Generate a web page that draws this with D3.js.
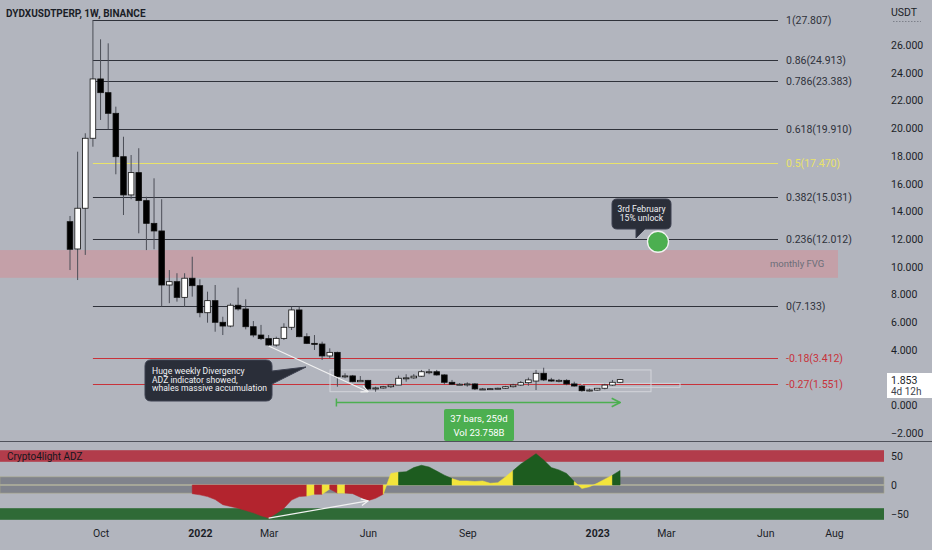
<!DOCTYPE html>
<html><head><meta charset="utf-8">
<script src="https://cdn.jsdelivr.net/npm/d3@7"></script>
<style>
body{margin:0;background:#b2b5be;}
svg{display:block;font-family:Roboto,"Liberation Sans",sans-serif;}
</style>
</head><body>
<svg id="c" width="932" height="550"></svg>
<script>
// ---------- DATA ----------
const firstWeek = new Date(Date.UTC(2021, 8, 6));
const opens  = [13.25,11.28,14.22,19.27,23.55,22.56,21.07,17.94,15.18,16.79,14.77,13.13,12.58,8.68,8.92,7.79,9.17,8.63,6.68,7.55,5.99,5.72,7.22,6.95,5.67,5.07,4.81,4.35,4.83,5.63,6.88,4.95,4.47,4.42,3.56,3.82,2.06,2.12,1.70,1.80,1.18,1.25,1.34,1.46,1.95,1.98,2.10,2.42,2.42,2.19,1.66,1.52,1.52,1.54,1.18,1.18,1.20,1.23,1.34,1.46,1.63,1.75,2.31,1.83,1.75,1.80,1.54,1.39,1.05,1.10,1.23,1.46,1.66];
const highs  = [13.66,18.30,19.63,27.807,26.41,26.12,21.55,19.38,18.06,18.55,15.05,16.38,14.87,9.76,9.53,9.53,10.72,9.09,8.20,8.68,6.39,7.36,8.49,7.65,6.08,5.80,5.07,4.95,5.92,7.12,7.12,5.20,5.07,4.59,4.11,3.87,2.31,2.19,2.11,1.83,1.34,1.40,1.52,2.14,2.24,2.25,2.55,2.62,2.55,2.24,1.83,1.60,1.66,1.60,1.25,1.25,1.27,1.40,1.55,1.75,2.00,2.55,2.71,1.98,1.90,1.88,1.70,1.46,1.20,1.25,1.55,1.83,1.90];
const lows   = [9.76,9.04,10.85,18.66,20.59,19.92,16.67,13.73,14.87,12.41,11.20,11.26,7.133,7.37,7.48,7.12,7.84,6.35,5.96,5.31,5.07,5.63,6.83,5.48,4.91,4.71,4.28,4.23,4.71,5.43,4.91,4.42,3.99,3.27,3.39,1.34,1.95,1.66,1.70,1.10,0.98,1.20,1.25,1.46,1.70,1.90,2.05,2.24,2.14,1.52,1.46,1.45,1.34,1.10,1.12,1.12,1.15,1.18,1.28,1.40,1.41,1.10,1.75,1.70,1.65,1.45,1.35,0.98,1.00,1.05,1.15,1.40,1.60];
const closes = [11.26,14.22,19.27,23.55,22.56,21.07,17.94,15.18,16.79,14.77,13.13,12.58,8.68,8.92,7.79,9.17,8.63,6.68,7.55,5.99,5.72,7.22,6.95,5.67,5.07,4.81,4.35,4.83,5.63,6.88,4.95,4.47,4.42,3.56,3.82,2.06,2.12,1.70,1.80,1.18,1.25,1.34,1.46,1.95,1.98,2.10,2.42,2.42,2.19,1.66,1.52,1.52,1.54,1.18,1.18,1.20,1.23,1.34,1.46,1.63,1.83,2.31,1.83,1.75,1.80,1.54,1.39,1.05,1.10,1.23,1.46,1.66,1.853];

// ADZ oscillator, starting at week index 16
const adzStart = 16;
const adzValues = [-15,-17,-20,-25,-34,-37,-40,-44,-48,-53,-57,-49,-40,-26,-20,-19,-16,-16,-7,-14,-14,-15,-21,-27,-23,-16,20,22,23,30,34,31,24,17,11,7,7,6,7,3,4,14,25,36,45,54,43,30,26,20,6,-6,-3,3,10,17,25];
// colour of the segment that starts at each point: r=red, y=yellow, g=green
const adzColors = "rrrrrrrrrrrrrrryryryrrrrryyggggggg yyyyyyyygggggggg yyyyyggg".replace(/ /g,"").split("");

const fibRatios = ["1","0.86","0.786","0.618","0.5","0.382","0.236","0","-0.18","-0.27"];
const fibValues = [27.807,24.913,23.383,19.910,17.470,15.031,12.012,7.133,3.412,1.551];
const fibKinds  = ["n","n","n","n","y","n","n","n","r","r"];

const priceTicks = [-2,0,4,6,8,10,12,14,16,18,20,22,24,26];
const timeTickDates = [[2021,9,4],[2022,0,3],[2022,2,7],[2022,5,6],[2022,8,5],[2023,0,2],[2023,2,6],[2023,5,5],[2023,7,7]];
const timeTickLabels = ["Oct","2022","Mar","Jun","Sep","2023","Mar","Jun","Aug"];
const adzTicks = [50,0,-50];

// ---------- SETUP ----------
const W = 932, H = 550, plotR = 884;
const svg = d3.select("#c");
const weeks = opens.map((d,i)=> d3.utcWeek.offset(firstWeek, i));
const x = d3.scaleUtc().domain([firstWeek, new Date(Date.UTC(2023,7,7))]).range([70, 834]);
const y = d3.scaleLinear().domain([-2, 26]).range([433, 45]);
const yi = d3.scaleLinear().domain([-50, 50]).range([514, 456]);

svg.append("rect").attr("width",W).attr("height",H).attr("fill","#b2b5be");

const main = svg.append("g");
const defs = svg.append("defs");
defs.append("clipPath").attr("id","mc").append("rect").attr("x",0).attr("y",0).attr("width",plotR).attr("height",441);
defs.append("marker").attr("id","arrW").attr("viewBox","0 0 10 10").attr("refX",9).attr("refY",5)
  .attr("markerWidth",7).attr("markerHeight",7).attr("orient","auto")
  .append("path").attr("d","M1,1 L9,5 L1,9").attr("fill","none").attr("stroke","#f2f2f2").attr("stroke-width",1.5);
defs.append("marker").attr("id","arrG").attr("viewBox","0 0 10 10").attr("refX",9).attr("refY",5)
  .attr("markerWidth",7).attr("markerHeight",7).attr("orient","auto")
  .append("path").attr("d","M1,1 L9,5 L1,9").attr("fill","none").attr("stroke","#4caf50").attr("stroke-width",1.5);

const pane = main.append("g").attr("clip-path","url(#mc)");

// monthly FVG zone
pane.append("rect").attr("x",0).attr("width",838).attr("y",y(11.2)).attr("height",y(9.2)-y(11.2))
  .attr("fill","#c4a0a8");
pane.append("text").attr("x",770).attr("y",(y(11.2)+y(9.2))/2+3.5).attr("font-size",9.5).attr("fill","#6b6e78").text("monthly FVG");

// fib levels
const fibColor = k => k==="y" ? "#e9e36a" : k==="r" ? "#c8323a" : "#2f323b";
const fx0 = x(weeks[3]), fx1 = 778;
fibValues.forEach((v,i)=>{
  pane.append("line").attr("x1",fx0).attr("x2",fx1).attr("y1",Math.round(y(v))+0.5).attr("y2",Math.round(y(v))+0.5)
    .attr("stroke",fibColor(fibKinds[i])).attr("stroke-width",1);
  pane.append("text").attr("x",786).attr("y",y(v)+4).attr("font-size",10.5).attr("fill",fibColor(fibKinds[i]))
    .text(`${fibRatios[i]}(${fibValues[i].toFixed(3)})`);
});

// range box
pane.append("rect").attr("x",330).attr("y",y(2.55)).attr("width",321).attr("height",y(0.98)-y(2.55))
  .attr("fill","rgba(255,255,255,0.04)").attr("stroke","#d3d5db").attr("stroke-width",1);
pane.append("rect").attr("x",582).attr("y",y(1.58)).attr("width",98).attr("height",y(1.3)-y(1.58))
  .attr("fill","none").attr("stroke","#d3d5db").attr("stroke-width",1);

// candles
const bw = 5.6;
const cg = pane.append("g");
weeks.forEach((d,i)=>{
  const cx = x(d), o=opens[i], c=closes[i];
  cg.append("line").attr("x1",cx).attr("x2",cx).attr("y1",y(highs[i])).attr("y2",y(lows[i]))
    .attr("stroke","#4b4e57").attr("stroke-width",1);
  const top = y(Math.max(o,c)), bot = y(Math.min(o,c));
  cg.append("rect").attr("x",cx-bw/2).attr("y",top).attr("width",bw).attr("height",Math.max(1,bot-top))
    .attr("fill", c>=o ? "#ffffff" : "#000000").attr("stroke","#111").attr("stroke-width",0.8);
});

// divergence line on price
pane.append("line").attr("x1",x(weeks[26])).attr("y1",y(4.28)).attr("x2",x(weeks[39])).attr("y2",y(0.98))
  .attr("stroke","#f2f2f2").attr("stroke-width",1.2).attr("marker-end","url(#arrW)");

// bars range measure
const ry = 402.5;
pane.append("line").attr("x1",x(weeks[35])-1).attr("x2",x(weeks[72])).attr("y1",ry).attr("y2",ry)
  .attr("stroke","#4caf50").attr("stroke-width",1.5).attr("marker-end","url(#arrG)");
pane.append("line").attr("x1",x(weeks[35])-1).attr("x2",x(weeks[35])-1).attr("y1",ry-4).attr("y2",ry+4)
  .attr("stroke","#4caf50").attr("stroke-width",1.5);
pane.append("rect").attr("x",444).attr("y",409).attr("width",70).attr("height",32).attr("rx",2).attr("fill","#4caf50");
pane.append("text").attr("x",479).attr("y",422).attr("text-anchor","middle").attr("font-size",9.5).attr("fill","#fff").text("37 bars, 259d");
pane.append("text").attr("x",479).attr("y",436).attr("text-anchor","middle").attr("font-size",9.5).attr("fill","#fff").text("Vol 23.758B");

// callout 1
const c1 = pane.append("g");
c1.append("path").attr("d","M151,360 H266 Q272,360 272,366 V371 L306,367 L272,384 V395 Q272,401 266,401 H151 Q145,401 145,395 V366 Q145,360 151,360 Z")
  .attr("fill","#2a2e39").attr("stroke","#3d4150").attr("stroke-width",1);
["Huge weekly Divergency","ADZ indicator showed,","whales massive accumulation"].forEach((t,i)=>{
  c1.append("text").attr("x",152).attr("y",374+i*8.6).attr("font-size",8.6).attr("fill","#f0f1f4").text(t);
});

// callout 2
const c2 = pane.append("g");
c2.append("path").attr("d","M617,199 H666 Q671,199 671,204 V224 Q671,229 666,229 H645 L636,238 L636,229 H617 Q612,229 612,224 V204 Q612,199 617,199 Z")
  .attr("fill","#2a2e39").attr("stroke","#3d4150").attr("stroke-width",1);
c2.append("text").attr("x",641.5).attr("y",212).attr("text-anchor","middle").attr("font-size",8.6).attr("fill","#f0f1f4").text("3rd February");
c2.append("text").attr("x",641.5).attr("y",221).attr("text-anchor","middle").attr("font-size",8.6).attr("fill","#f0f1f4").text("15% unlock");
pane.append("circle").attr("cx",658).attr("cy",y(11.8)).attr("r",10.5).attr("fill","#4caf50").attr("stroke","#f2f2f2").attr("stroke-width",1.3);

// title
svg.append("text").attr("x",6).attr("y",16.5).attr("font-size",10).attr("font-weight","bold").attr("fill","#1b1e27")
  .text("DYDXUSDTPERP, 1W, BINANCE");

// price axis
const pa = svg.append("g").attr("transform",`translate(891,0)`);
priceTicks.forEach(v=>{
  pa.append("text").attr("x",0).attr("y",y(v)+4).attr("font-size",10.5).attr("fill","#1b1e27").text(d3.format(".3f")(v));
});
svg.append("text").attr("x",891).attr("y",16).attr("font-size",10.5).attr("fill","#1b1e27").text("USDT");
svg.append("line").attr("x1",893).attr("x2",921).attr("y1",21.5).attr("y2",21.5).attr("stroke","#7d808a").attr("stroke-dasharray","1.5,1.5");
// current price label
svg.append("rect").attr("x",887).attr("y",373).attr("width",45).attr("height",25).attr("fill","#ffffff");
svg.append("text").attr("x",891).attr("y",384).attr("font-size",10.5).attr("fill","#1b1e27").text("1.853");
svg.append("text").attr("x",891).attr("y",395).attr("font-size",10).attr("fill","#40434c").text("4d 12h");

// separator
svg.append("line").attr("x1",0).attr("x2",W).attr("y1",441.5).attr("y2",441.5).attr("stroke","#4f525b").attr("stroke-width",1);

// ---------- ADZ pane ----------
const ip = svg.append("g");
ip.append("rect").attr("x",0).attr("width",plotR).attr("y",yi(60)).attr("height",yi(40)-yi(60)).attr("fill","#b23c4b");
ip.append("rect").attr("x",0).attr("width",plotR).attr("y",yi(-40)).attr("height",yi(-60)-yi(-40)).attr("fill","#2f6a36");
ip.append("rect").attr("x",0).attr("width",plotR).attr("y",yi(14)).attr("height",yi(1.2)-yi(14)).attr("fill","#80838c").attr("stroke","#a9a98a").attr("stroke-width",0.6);
ip.append("rect").attr("x",0).attr("width",plotR).attr("y",yi(-1.2)).attr("height",yi(-14)-yi(-1.2)).attr("fill","#80838c").attr("stroke","#a9a98a").attr("stroke-width",0.6);
ip.append("text").attr("x",7).attr("y",yi(50)+3.5).attr("font-size",10).attr("fill","#15171d").text("Crypto4light ADZ");

const colMap = {r:"#b3242e", y:"#f2e43c", g:"#1d5c1f"};
const ag = ip.append("g");
// group consecutive segments with the same colour into one area
let k = 0;
const nSeg = adzValues.length-1;
while (k < nSeg){
  const c = adzColors[k] || "y";
  let e = k;
  while (e+1 < nSeg && (adzColors[e+1]||"y") === c) e++;
  const pts = [];
  for (let j=k; j<=e+1; j++) pts.push([x(weeks[adzStart+j]), yi(adzValues[j])]);
  const d = `M${pts[0][0]},${yi(0)} ` + pts.map(p=>`L${p[0]},${p[1]}`).join(" ") + ` L${pts[pts.length-1][0]},${yi(0)} Z`;
  ag.append("path").attr("d",d).attr("fill",colMap[c]).attr("stroke",colMap[c]).attr("stroke-width",0.5).attr("stroke-linejoin","round");
  k = e+1;
}
// divergence on indicator
ip.append("line").attr("x1",x(weeks[26])).attr("y1",yi(-57)).attr("x2",x(weeks[39])).attr("y2",yi(-27.5))
  .attr("stroke","#f2f2f2").attr("stroke-width",1.2).attr("marker-end","url(#arrW)");

adzTicks.forEach(v=>{
  svg.append("text").attr("x",891).attr("y",yi(v)+4).attr("font-size",10.5).attr("fill","#1b1e27").text(d3.format("d")(v));
});

// ---------- time axis ----------
const tickDates = timeTickDates.map(a=>new Date(Date.UTC(a[0],a[1],a[2])));
const xAxis = d3.axisBottom(x).tickValues(tickDates).tickSize(0).tickFormat((d,i)=>timeTickLabels[i]);
const xa = svg.append("g").attr("transform","translate(0,527)").call(xAxis);
xa.select(".domain").remove();
xa.selectAll("text").attr("font-size",10.5).attr("fill","#1b1e27").attr("font-family","Roboto,sans-serif")
  .attr("font-weight",(d,i)=> /^\d{4}$/.test(timeTickLabels[i]) ? "bold" : "normal");
</script>
</body></html>
